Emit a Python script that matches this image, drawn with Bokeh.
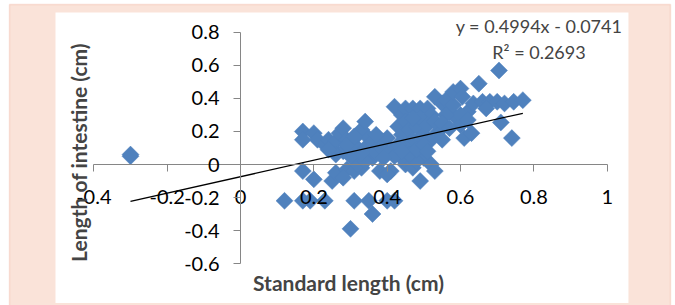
import math
from bokeh.plotting import figure
from bokeh.models import Label, BoxAnnotation, FixedTicker, PrintfTickFormatter, Range1d
from bokeh.embed import file_html
from bokeh.resources import INLINE

# ---- data ----
standard_length = [
    -0.30, -0.30,
    0.12, 0.17, 0.17, 0.20, 0.19, 0.23, 0.25, 0.26, 0.29, 0.28, 0.30, 0.31, 0.35, 0.36,
    0.31, 0.33, 0.32, 0.38, 0.41, 0.40, 0.40, 0.42, 0.45, 0.47, 0.49, 0.50, 0.52, 0.53,
    0.44, 0.48, 0.36, 0.34,
    0.17, 0.17, 0.20, 0.21, 0.23, 0.24, 0.25, 0.26, 0.27, 0.28, 0.29, 0.28, 0.30, 0.31,
    0.32, 0.33, 0.34, 0.35, 0.34, 0.36, 0.37, 0.38, 0.39, 0.40, 0.41, 0.42, 0.30, 0.33, 0.26,
    0.42, 0.44, 0.45, 0.47, 0.49, 0.51, 0.52, 0.53, 0.55, 0.56, 0.57, 0.43, 0.44, 0.45,
    0.46, 0.47, 0.48, 0.49, 0.50, 0.51, 0.52, 0.54, 0.55, 0.45, 0.46, 0.48, 0.50, 0.43,
    0.58, 0.59, 0.60, 0.58, 0.60, 0.605, 0.62, 0.60,
    0.61, 0.63, 0.65, 0.635, 0.66, 0.68, 0.70, 0.72, 0.745, 0.77, 0.705, 0.71, 0.74, 0.67,
    0.47, 0.53, 0.56, 0.55, 0.39, 0.44, 0.51, 0.29, 0.24, 0.31, 0.37, 0.57, 0.62,
]
intestine_length = [
    0.05, 0.06,
    -0.22, -0.04, -0.22, -0.09, -0.22, -0.22, -0.10, -0.05, -0.03, -0.08, -0.39, -0.22, -0.22, -0.30,
    -0.04, -0.02, 0.00, -0.04, -0.04, -0.06, -0.22, -0.22, 0.00, -0.02, -0.10, 0.04, 0.00, -0.04,
    0.04, 0.02, 0.04, 0.02,
    0.20, 0.15, 0.19, 0.15, 0.12, 0.15, 0.10, 0.14, 0.19, 0.22, 0.15, 0.08, 0.10, 0.12,
    0.18, 0.21, 0.26, 0.16, 0.10, 0.14, 0.07, 0.11, 0.14, 0.16, 0.08, 0.05, 0.05, 0.07, 0.06,
    0.35, 0.30, 0.34, 0.34, 0.34, 0.34, 0.30, 0.41, 0.37, 0.39, 0.32, 0.23, 0.18, 0.26,
    0.21, 0.15, 0.23, 0.28, 0.18, 0.24, 0.15, 0.20, 0.15, 0.10, 0.06, 0.09, 0.12, 0.12,
    0.36, 0.28, 0.24, 0.44, 0.46, 0.41, 0.32, 0.30,
    0.16, 0.19, 0.49, 0.37, 0.38, 0.38, 0.38, 0.37, 0.38, 0.39, 0.57, 0.255, 0.16, 0.34,
    0.28, 0.26, 0.30, 0.25, 0.04, 0.08, 0.08, 0.12, 0.09, 0.17, 0.18, 0.22, 0.27,
]
trend_slope = 0.4994
trend_intercept = -0.0741
equation_text = "y = 0.4994x - 0.0741"
r2_text = "R\u00b2 = 0.2693"
x_ticks = [-0.4, -0.2, 0, 0.2, 0.4, 0.6, 0.8, 1]
y_ticks = [-0.6, -0.4, -0.2, 0, 0.2, 0.4, 0.6, 0.8]
x_title = "Standard length (cm)"
y_title = "Length of intestine (cm)"

FONT = "Lato"
BLUE = "#4F81BD"
PEACH = "#FAE3D9"
SALMON = "#EEA58E"
AXIS = "#868686"

p = figure(width=675, height=305, output_backend="svg", toolbar_location=None,
           x_range=Range1d(-0.6545, 1.1863), y_range=Range1d(-0.8545, 0.9939),
           min_border_left=0, min_border_right=0, min_border_top=0, min_border_bottom=0)
p.border_fill_color = "white"
p.background_fill_color = "white"
p.outline_line_color = None
p.grid.visible = False

# outer peach panel with salmon border, then the white chart area
p.add_layout(BoxAnnotation(left=-0.6299, right=1.1726, top=0.9697, bottom=-2.0,
                           fill_color=PEACH, fill_alpha=1.0, line_color=SALMON, line_width=1.5,
                           level="underlay"))
p.add_layout(BoxAnnotation(left=-0.5045, right=1.058, top=0.921, bottom=-0.84,
                           fill_color="white", fill_alpha=1.0, line_color=None, level="underlay"))

for ax, ticks, bnds in ((p.xaxis[0], x_ticks, (-0.4, 1.0)), (p.yaxis[0], y_ticks, (-0.6, 0.8))):
    ax.fixed_location = 0
    ax.bounds = bnds
    ax.ticker = FixedTicker(ticks=ticks)
    ax.formatter = PrintfTickFormatter(format="%g")
    ax.axis_line_color = AXIS
    ax.major_tick_line_color = AXIS
    ax.major_tick_out = 7
    ax.major_tick_in = 0
    ax.minor_tick_line_color = None
    ax.major_label_text_font = FONT
    ax.major_label_text_font_size = "20px"
    ax.major_label_text_color = "black"
p.xaxis.major_label_standoff = 18
p.yaxis.major_label_standoff = 14

p.scatter(standard_length, intestine_length, marker="square", size=12, angle=math.pi / 4,
          fill_color=BLUE, line_color=BLUE, line_width=0.5)

x0, x1 = min(standard_length), max(standard_length)
p.line([x0, x1], [trend_slope * x0 + trend_intercept, trend_slope * x1 + trend_intercept],
       line_color="black", line_width=1.3)

p.add_layout(Label(x=0.2945, y=-0.715, text=x_title, text_font=FONT, text_font_size="21px",
                   text_font_style="bold", text_align="center", text_baseline="middle"))
p.add_layout(Label(x=-0.4418, y=0.073, text=y_title, text_font=FONT, text_font_size="21px",
                   text_font_style="bold", text_align="center", text_baseline="middle",
                   angle=math.pi / 2))
p.add_layout(Label(x=0.814, y=0.842, text=equation_text, text_font=FONT, text_font_size="18px",
                   text_align="center", text_baseline="middle"))
p.add_layout(Label(x=0.814, y=0.679, text=r2_text, text_font=FONT, text_font_size="18px",
                   text_align="center", text_baseline="middle"))

open("out.html", "w").write(file_html(p, INLINE))
